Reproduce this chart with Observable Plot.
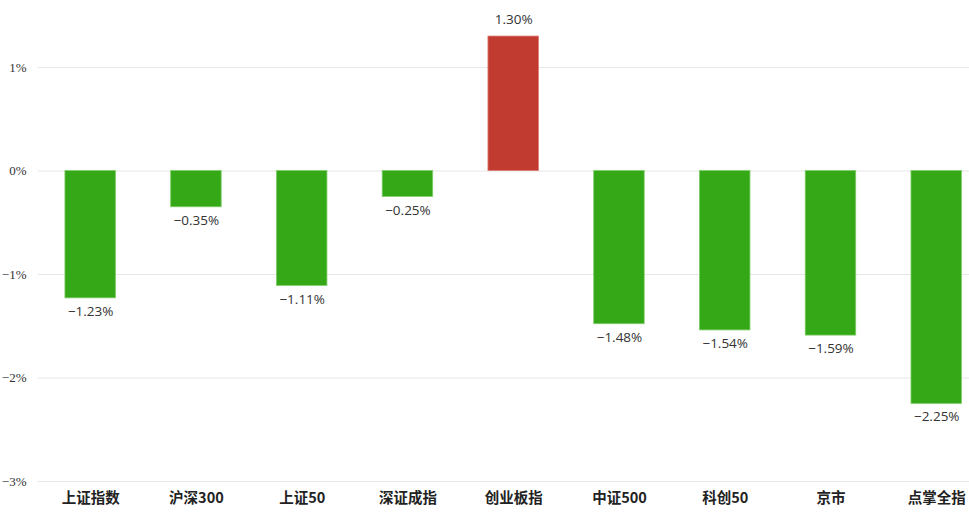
<!DOCTYPE html>
<html>
<head>
<meta charset="utf-8">
<script src="https://cdn.jsdelivr.net/npm/d3@7"></script>
<script src="https://cdn.jsdelivr.net/npm/@observablehq/plot@0.6"></script>
<style>
  html, body { margin: 0; padding: 0; background: #fff; }
  #chart svg { display: block; }
</style>
</head>
<body>
<div id="chart"></div>
<script>
const categories = ["上证指数", "沪深300", "上证50", "深证成指", "创业板指", "中证500", "科创50", "京市", "点掌全指"];
const changes = [-1.23, -0.35, -1.11, -0.25, 1.30, -1.48, -1.54, -1.59, -2.25];
const yTicks = [-3, -2, -1, 0, 1];

const data = categories.map((name, i) => ({ name, value: changes[i] }));
const fmt = v => (v < 0 ? "\u2212" : "") + Math.abs(v).toFixed(2) + "%";
const tickFmt = v => (v < 0 ? "\u2212" : "") + Math.abs(v) + "%";

const chart = Plot.plot({
  width: 969,
  height: 515,
  marginLeft: 38,
  marginRight: 0,
  marginTop: 5,
  marginBottom: 34,
  style: { fontFamily: "'Noto Sans CJK SC', 'Noto Sans', sans-serif", background: "#fff" },
  x: { domain: categories, range: [37.3, 989.1], paddingInner: 0.5225, paddingOuter: 0.26125, round: false, label: null },
  y: { domain: [-3, 1.6], label: null },
  marks: [
    Plot.ruleY(yTicks, { stroke: "#e6e6e6", strokeWidth: 1 }),
    Plot.axisY(yTicks, {
      tickSize: 0, tickPadding: 12, tickFormat: tickFmt, label: null,
      fontFamily: "'Liberation Serif', serif", fontSize: 13, fill: "#333"
    }),
    Plot.barY(data, {
      x: "name", y: "value",
      fill: d => d.value >= 0 ? "#c23b30" : "#34a817",
      stroke: d => d.value >= 0 ? "#e07a72" : "#7fcc68",
      strokeWidth: 0.8
    }),
    Plot.text(data.filter(d => d.value >= 0), {
      x: "name", y: "value", text: d => fmt(d.value),
      lineAnchor: "bottom", dy: -13,
      fontFamily: "'Open Sans', sans-serif", fontSize: 13.5, fill: "#333"
    }),
    Plot.text(data.filter(d => d.value < 0), {
      x: "name", y: "value", text: d => fmt(d.value),
      lineAnchor: "top", dy: 8,
      fontFamily: "'Open Sans', sans-serif", fontSize: 13.5, fill: "#333"
    }),
    Plot.axisX(categories, {
      tickSize: 0, tickPadding: 11, label: null,
      fontSize: 14.5, fontWeight: "bold", fill: "#222"
    })
  ]
});

document.getElementById("chart").appendChild(chart);
</script>
</body>
</html>
